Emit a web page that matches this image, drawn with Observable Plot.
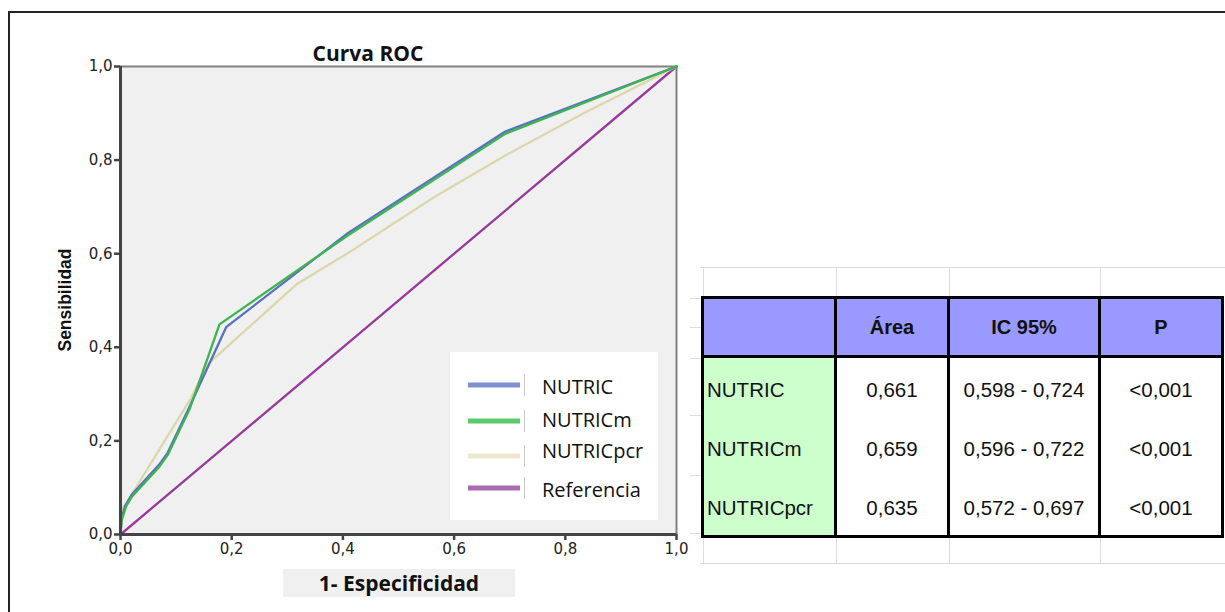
<!DOCTYPE html>
<html>
<head>
<meta charset="utf-8">
<script src="https://cdn.jsdelivr.net/npm/d3@7"></script>
<script src="https://cdn.jsdelivr.net/npm/@observablehq/plot@0.6"></script>
<style>
  html, body { margin: 0; padding: 0; background: #fff; }
  #page { position: relative; width: 1225px; height: 612px; overflow: hidden; background: #fff; }
  #frame { position: absolute; left: 8px; top: 11px; width: 1240px; height: 640px; border: 2px solid #222; box-sizing: border-box; }
  #chart { position: absolute; left: 0; top: 0; }
  #title { position: absolute; left: 0; width: 736px; top: 39px; line-height: 21px; text-align: center;
           font: bold 21px "Open Sans", sans-serif; color: #111; }
  #ylabel { position: absolute; left: 65px; top: 300px; transform: translate(-50%, -50%) rotate(-90deg);
            font: bold 17.5px "Liberation Sans", Arial, sans-serif; color: #111; white-space: nowrap; }
  #xlabel { position: absolute; left: 283px; top: 569px; width: 232px; height: 28px; line-height: 28px; background: #f0f0f0;
            text-align: center; font: bold 21px "Open Sans", sans-serif; color: #111; }
  #legend { position: absolute; left: 450px; top: 352px; }
  #grid { position: absolute; left: 0; top: 0; }
  #table { position: absolute; left: 701px; top: 296px; border-collapse: collapse; table-layout: fixed;
           font: 20.5px "Liberation Sans", Arial, sans-serif; color: #111; }
  #table th { height: 56px; background: #9999ff; border: 3px solid #000; font-weight: bold; text-align: center; padding: 0; font-size: 20px; }
  #table td { height: 55px; border-left: 3px solid #000; border-right: 3px solid #000; text-align: center; padding: 4px 0 0 0; background: #fff; }
  #table td.lab { background: #ccffcc; text-align: left; padding-left: 3px; }
  #table tr:last-child td { border-bottom: 3px solid #000; }
</style>
</head>
<body>
<div id="page">
  <div id="frame"></div>
  <svg id="grid" width="1225" height="612"></svg>
  <div id="chart"></div>
  <div id="title"></div>
  <div id="ylabel"></div>
  <div id="xlabel"></div>
  <svg id="legend" width="208" height="168"></svg>
  <table id="table"></table>
</div>
<script>
// ---------- data ----------
const chartTitle = "Curva ROC";
const xLabel = "1- Especificidad";
const yLabel = "Sensibilidad";
const ticks = [0, 0.2, 0.4, 0.6, 0.8, 1.0];

const seriesNames = ["NUTRIC", "NUTRICm", "NUTRICpcr", "Referencia"];
const lineColors = ["#5a6fc2", "#3cb44f", "#dcd7aa", "#96399a"];
const legendColors = ["#7d91d2", "#5bca6a", "#ebe9cf", "#ac6ab4"];

const nutricX = [0, 0.002, 0.008, 0.02, 0.07, 0.085, 0.125, 0.19, 0.41, 0.692, 1];
const nutricY = [0, 0.035, 0.06, 0.085, 0.15, 0.175, 0.275, 0.443, 0.645, 0.861, 1];
const nutricmX = [0, 0.002, 0.01, 0.02, 0.07, 0.085, 0.125, 0.178, 0.41, 0.692, 1];
const nutricmY = [0, 0.03, 0.06, 0.08, 0.145, 0.17, 0.27, 0.449, 0.64, 0.856, 1];
const pcrX = [0, 0.001, 0.012, 0.126, 0.158, 0.318, 0.414, 0.563, 0.692, 0.833, 1];
const pcrY = [0, 0.05, 0.07, 0.29, 0.365, 0.536, 0.605, 0.72, 0.81, 0.9, 1];
const refX = [0, 1];
const refY = [0, 1];

const tableHeader = ["", "Área", "IC 95%", "P"];
const tableRowNames = ["NUTRIC", "NUTRICm", "NUTRICpcr"];
const tableArea = ["0,661", "0,659", "0,635"];
const tableCI = ["0,598 - 0,724", "0,596 - 0,722", "0,572 - 0,697"];
const tableP = ["<0,001", "<0,001", "<0,001"];

// ---------- build ----------
const xs = [nutricX, nutricmX, pcrX, refX];
const ys = [nutricY, nutricmY, pcrY, refY];
const rows = [];
// draw order: reference, pcr, NUTRIC, NUTRICm
[3, 2, 0, 1].forEach(i => {
  xs[i].forEach((x, j) => rows.push({series: seriesNames[i], fpr: x, tpr: ys[i][j]}));
});
const fmt = d => d.toFixed(1).replace(".", ",");

const plot = Plot.plot({
  width: 700,
  height: 612,
  marginLeft: 120,
  marginRight: 24,
  marginTop: 66,
  marginBottom: 78,
  style: {background: "transparent", fontFamily: "DejaVu Sans, sans-serif", fontSize: "15px", color: "#222"},
  x: {domain: [0, 1], label: null},
  y: {domain: [0, 1], label: null},
  color: {domain: seriesNames, range: lineColors},
  marks: [
    Plot.frame({fill: "#f0f0f0", stroke: null}),
    Plot.ruleY([1], {stroke: "#808080", strokeWidth: 2}),
    Plot.ruleX([1], {stroke: "#808080", strokeWidth: 2}),
    Plot.line(rows, {x: "fpr", y: "tpr", z: "series", stroke: "series", strokeWidth: 2.3, curve: "linear"}),
    Plot.ruleX([0], {stroke: "#444", strokeWidth: 3}),
    Plot.ruleY([0], {stroke: "#444", strokeWidth: 3}),
    Plot.axisX({ticks, tickFormat: fmt, tickSize: 6, tickPadding: 3, stroke: "#444", strokeWidth: 2.5, label: null}),
    Plot.axisY({ticks, tickFormat: fmt, tickSize: 6, tickPadding: 2, stroke: "#444", strokeWidth: 2.5, label: null})
  ]
});
document.getElementById("chart").append(plot);

document.getElementById("title").textContent = chartTitle;
document.getElementById("ylabel").textContent = yLabel;
document.getElementById("xlabel").textContent = xLabel;

// legend
const leg = d3.select("#legend");
leg.append("rect").attr("width", 208).attr("height", 168).attr("fill", "#fff");
const swY = [33, 69, 104, 136];
const txY = [42, 75, 106, 145];
seriesNames.forEach((s, i) => {
  leg.append("line").attr("x1", 18).attr("x2", 70).attr("y1", swY[i]).attr("y2", swY[i])
    .attr("stroke", legendColors[i]).attr("stroke-width", 5);
  leg.append("line").attr("x1", 74.5).attr("x2", 74.5).attr("y1", swY[i] - 11).attr("y2", swY[i] + 11)
    .attr("stroke", "#c8c8c8").attr("stroke-width", 1);
  leg.append("text").attr("x", 92).attr("y", txY[i]).text(s)
    .attr("font-family", "Open Sans, sans-serif").attr("font-size", 20).attr("fill", "#111");
});

// spreadsheet gridlines
const g = d3.select("#grid");
const gc = "#dcdcdc";
g.append("line").attr("x1", 700).attr("x2", 1225).attr("y1", 267.5).attr("y2", 267.5).attr("stroke", gc);
g.append("line").attr("x1", 700).attr("x2", 1225).attr("y1", 563.5).attr("y2", 563.5).attr("stroke", gc);
[703.5, 836.5, 949.5, 1100.5].forEach(x => g.append("line").attr("x1", x).attr("x2", x).attr("y1", 267).attr("y2", 564).attr("stroke", gc));
[298, 327, 358, 415, 475, 533].forEach(y => g.append("line").attr("x1", 690).attr("x2", 702).attr("y1", y + 0.5).attr("y2", y + 0.5).attr("stroke", gc));

// table
const table = d3.select("#table");
const cg = table.append("colgroup");
[133, 113, 151, 123].forEach(w => cg.append("col").style("width", w + "px"));
const hr = table.append("tr");
tableHeader.forEach(h => hr.append("th").text(h));
tableRowNames.forEach((n, i) => {
  const tr = table.append("tr");
  tr.append("td").attr("class", "lab").text(n);
  tr.append("td").text(tableArea[i]);
  tr.append("td").text(tableCI[i]);
  tr.append("td").text(tableP[i]);
});
</script>
</body>
</html>
